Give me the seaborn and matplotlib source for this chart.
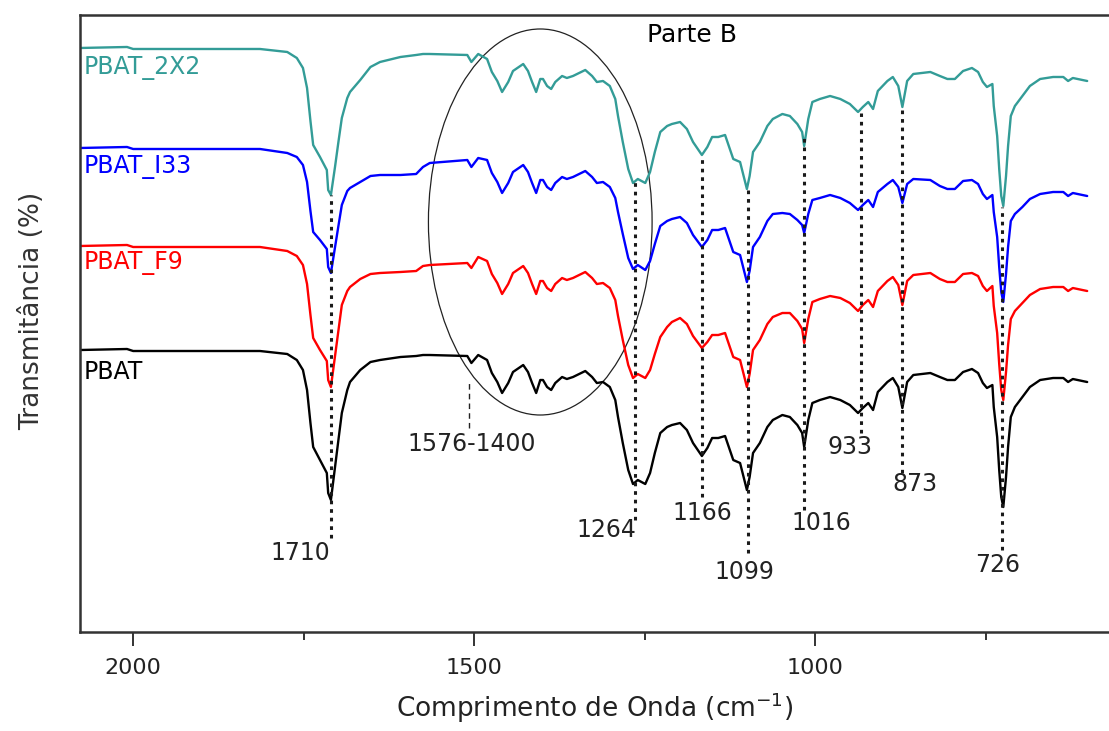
import numpy as np
import pandas as pd
import matplotlib
matplotlib.use('Agg')
import matplotlib.pyplot as plt
import seaborn as sns
from matplotlib.patches import Ellipse

sns.set_style('white')
plt.rcParams['font.family'] = ['DejaVu Sans']

# ---------------- data ----------------
wavenumber = [
    2078, 2009, 2000, 1814, 1774, 1760, 1751, 1745, 1740, 1736,
    1726, 1716, 1714, 1710, 1704, 1699, 1694, 1686, 1682, 1667,
    1652, 1638, 1608, 1585, 1575, 1565, 1510, 1504, 1494, 1481,
    1474, 1466, 1459, 1450, 1443, 1428, 1421, 1415, 1409, 1403,
    1399, 1393, 1387, 1381, 1371, 1364, 1355, 1337, 1327, 1320,
    1311, 1301, 1293, 1289, 1282, 1274, 1267, 1260, 1249, 1242,
    1235, 1227, 1217, 1210, 1198, 1188, 1179, 1166, 1158, 1151,
    1142, 1132, 1125, 1120, 1110, 1100, 1096, 1091, 1081, 1070,
    1062, 1048, 1037, 1026, 1019, 1016, 1010, 1004, 993, 978,
    963, 949, 937, 930, 922, 915, 908, 894, 886, 878,
    872, 865, 856, 831, 817, 806, 795, 783, 770, 761,
    754, 748, 740, 738, 733, 730, 727, 724, 720, 717,
    713, 707, 696, 685, 670, 651, 636, 629, 622, 601]

pbat = [
    282, 283, 281, 281, 278, 272, 262, 242, 209, 185,
    172, 159, 139, 132, 165, 192, 219, 242, 250, 262,
    270, 272, 275, 276, 277, 277, 276, 269, 277, 272,
    259, 250, 239, 249, 260, 267, 260, 249, 239, 252,
    252, 245, 242, 249, 255, 253, 255, 261, 255, 249,
    250, 245, 232, 215, 189, 162, 148, 152, 148, 159,
    179, 199, 205, 207, 209, 202, 189, 176, 184, 194,
    194, 196, 182, 172, 169, 142, 155, 179, 189, 205,
    212, 217, 215, 207, 199, 185, 212, 229, 232, 235,
    232, 227, 219, 224, 229, 222, 240, 250, 254, 245,
    224, 250, 257, 259, 255, 252, 252, 260, 263, 259,
    249, 244, 247, 225, 195, 162, 135, 125, 155, 185,
    215, 225, 235, 245, 252, 254, 254, 250, 253, 250]

pbat_f9 = [
    386, 387, 385, 385, 381, 376, 367, 348, 317, 294,
    282, 271, 252, 245, 276, 302, 327, 341, 345, 353,
    358, 359, 360, 361, 366, 367, 369, 364, 375, 371,
    358, 349, 338, 348, 359, 366, 359, 348, 338, 351,
    351, 344, 341, 348, 354, 352, 354, 360, 354, 348,
    349, 344, 332, 316, 292, 267, 254, 258, 254, 262,
    278, 295, 305, 310, 314, 308, 296, 284, 290, 297,
    297, 299, 285, 275, 272, 245, 258, 282, 292, 308,
    315, 319, 319, 311, 303, 289, 313, 330, 333, 336,
    334, 329, 321, 327, 332, 325, 341, 351, 355, 347,
    327, 351, 357, 359, 353, 350, 350, 358, 359, 356,
    346, 341, 346, 326, 299, 268, 242, 232, 260, 287,
    313, 321, 329, 337, 343, 345, 345, 341, 344, 341]

pbat_i33 = [
    484, 485, 483, 483, 479, 475, 467, 450, 421, 400,
    392, 383, 365, 359, 385, 406, 427, 441, 444, 450,
    456, 457, 457, 458, 465, 469, 472, 465, 474, 472,
    459, 450, 439, 449, 460, 467, 460, 449, 439, 452,
    452, 445, 442, 449, 455, 453, 455, 461, 455, 449,
    450, 445, 434, 420, 398, 374, 363, 367, 362, 371,
    388, 406, 411, 413, 415, 409, 397, 385, 392, 402,
    402, 404, 390, 380, 377, 350, 361, 385, 395, 411,
    418, 419, 418, 412, 407, 399, 418, 432, 434, 437,
    434, 429, 422, 427, 432, 425, 440, 448, 452, 445,
    429, 448, 453, 452, 446, 443, 443, 451, 452, 448,
    438, 433, 437, 420, 395, 365, 340, 330, 358, 385,
    411, 418, 425, 433, 438, 440, 440, 436, 439, 436]

pbat_2x2 = [
    584, 585, 583, 583, 580, 574, 564, 544, 511, 487,
    475, 462, 442, 437, 465, 490, 514, 534, 540, 552,
    565, 570, 575, 577, 578, 578, 577, 570, 578, 573,
    560, 551, 540, 550, 561, 568, 561, 550, 540, 553,
    553, 546, 543, 550, 556, 554, 556, 562, 556, 550,
    551, 546, 533, 516, 490, 463, 449, 453, 449, 460,
    480, 500, 506, 508, 510, 503, 490, 477, 485, 495,
    495, 497, 483, 473, 470, 443, 456, 480, 490, 506,
    513, 518, 516, 508, 500, 486, 513, 530, 533, 536,
    533, 528, 520, 525, 530, 523, 541, 551, 555, 546,
    525, 551, 558, 560, 556, 553, 553, 561, 564, 560,
    550, 545, 548, 526, 496, 463, 436, 426, 456, 486,
    516, 526, 536, 546, 553, 555, 555, 551, 554, 551]

sample_names = ['PBAT', 'PBAT_F9', 'PBAT_I33', 'PBAT_2X2']
sample_colors = ['#000000', '#ff0000', '#0000ff', '#339c97']
label_levels = [260, 369, 465, 564]

band_labels = ['1710', '1264', '1166', '1099', '1016', '933', '873', '726']
band_positions = [1710, 1264, 1166, 1099, 1016, 933, 873, 726]
band_top = [437, 452, 477, 442, 494, 519, 524, 425]
band_bottom = [94, 112, 135, 79, 122, 199, 159, 82]
band_text_x = [1711, 1262, 1166, 1103, 991, 949, 853, 733]
band_text_y = [79, 102, 119, 60, 109, 185, 148, 67]
band_text_ha = ['right', 'right', 'center', 'center', 'center', 'center', 'center', 'center']

# ---------------- frame ----------------
series = dict(zip(sample_names, [pbat, pbat_f9, pbat_i33, pbat_2x2]))
df = pd.concat([pd.DataFrame({'wn': wavenumber, 'T': vals, 'amostra': name})
                for name, vals in series.items()], ignore_index=True)
palette = dict(zip(sample_names, sample_colors))

fig = plt.figure(figsize=(11.09, 7.31), dpi=100)
ax = fig.add_axes([0.0721, 0.1354, 0.9279, 0.8441])

sns.lineplot(data=df, x='wn', y='T', hue='amostra', palette=palette,
             estimator=None, sort=False, legend=False, linewidth=1.7, ax=ax)

ax.set_xlim(2078, 569)
ax.set_ylim(0, 617)

# dotted marker lines
for x, y0, y1 in zip(band_positions, band_bottom, band_top):
    ax.plot([x, x], [y0, y1], color='#1a1a1a', linewidth=2.2,
            linestyle=(0, (1.2, 1.6)), zorder=5)
for lab, tx, ty, ha in zip(band_labels, band_text_x, band_text_y, band_text_ha):
    ax.text(tx, ty, lab, ha=ha, va='center', fontsize=17, color='#222222')

# region 1576-1400
ax.plot([1507, 1507], [204, 250], color='#222222', linewidth=1.0,
        linestyle=(0, (4, 3)))
ax.text(1504, 188, '1576-1400', ha='center', va='center', fontsize=17,
        color='#222222')
ax.add_patch(Ellipse((1403, 410), width=328, height=386, fill=False,
                     edgecolor='#222222', linewidth=0.9))

# sample labels
for name, col, lvl in zip(sample_names, sample_colors, label_levels):
    ax.text(2072, lvl, name, color=col, fontsize=17, ha='left', va='center')

ax.text(1180, 597, 'Parte B', fontsize=18, color='black', ha='center',
        va='center')

# axes styling
for side in ['top', 'left', 'bottom']:
    ax.spines[side].set_color('#333333')
    ax.spines[side].set_linewidth(1.8)
ax.spines['right'].set_visible(False)

ax.set_xticks([2000, 1500, 1000])
ax.set_xticks([1750, 1250, 750], minor=True)
ax.tick_params(axis='x', which='major', direction='out', length=10, width=1.4,
               color='#333333', labelsize=16, pad=9, labelcolor='#222222',
               bottom=True)
ax.tick_params(axis='x', which='minor', direction='out', length=6, width=1.4,
               color='#333333', bottom=True)
ax.set_yticks([])

ax.set_xlabel('Comprimento de Onda (cm$^{-1}$)', fontsize=19, color='#222222',
              labelpad=9)
ax.set_ylabel('Transmitância (%)', fontsize=19, color='#333333')
ax.yaxis.set_label_coords(-0.034, 0.52)

fig.savefig('out.png', dpi=100)
